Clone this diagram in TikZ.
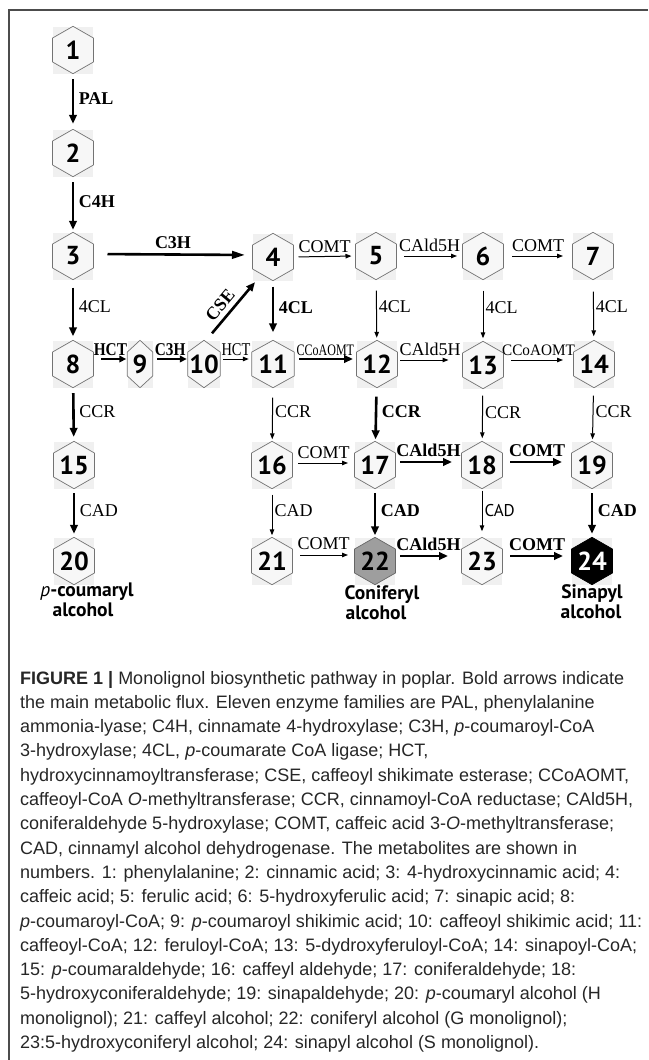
\documentclass[tikz,border=0pt]{standalone}
\usepackage{fontspec}
\usepackage{graphicx}
\setmainfont{Liberation Serif}
\newfontfamily\numf{PT Sans}
\newfontfamily\capf{Liberation Sans}
\usetikzlibrary{arrows.meta}
\newcommand\hexn[7]{%
  \node[bgbox, minimum width={2*#4pt}] (#1) at (#2,#3) {};
  \draw[hexline,#5] (#1.north) -- ([yshift=-11.75pt]#1.north east) -- ([yshift=11.75pt]#1.south east) -- (#1.south) -- ([yshift=11.75pt]#1.south west) -- ([yshift=-11.75pt]#1.north west) -- cycle;
  \node[numtxt,#6] (#1t) at (#1) {#7};
}
\newcommand\cnd[2]{\scalebox{#1}[1]{#2}}
\begin{document}
\begin{tikzpicture}[x=1pt,y=-1pt,
  bgbox/.style={fill=black!6, draw=none, inner sep=0pt, minimum height=47pt},
  hexline/.style={draw=black!55, line width=0.7pt, fill=black!3},
  boldarr/.style={line width=2.6pt, -{Triangle[length=9pt,width=7.5pt]}},
  thinarr/.style={line width=1pt, -{Triangle[length=6pt,width=4.5pt]}},
  enz/.style={font=\fontsize{18}{18}\selectfont, inner sep=1.5pt},
  enzb/.style={font=\fontsize{18}{18}\selectfont\bfseries, inner sep=1.5pt},
  enzs/.style={font=\numf\fontsize{17}{17}\selectfont, inner sep=1.5pt},
  numtxt/.style={font=\numf\bfseries\fontsize{26}{26}\selectfont, inner sep=0pt},
  fintxt/.style={font=\numf\bfseries\fontsize{19.5}{19.5}\selectfont, inner sep=0pt},
  captxt/.style={font=\capf\fontsize{18}{18}\selectfont, text=black!85, inner sep=0pt, anchor=base west},
  vlb/.style={right, xshift=3pt, pos=0.45},
  vlt/.style={right, xshift=0.5pt, pos=0.45},
  frameline/.style={line width=1.3pt, draw=black!70}
]
\useasboundingbox (0,0) rectangle (648,1060);
\draw[frameline] (648,10) -- (9,10) -- (9,1060);

% hexagons
\hexn{n1}{73}{50}{20.3}{}{}{1}
\hexn{n2}{73}{153}{20.3}{}{}{2}
\hexn{n3}{73}{256}{20.3}{}{}{3}
\hexn{n4}{273}{257}{20.3}{}{}{4}
\hexn{n5}{376}{256}{20.3}{}{}{5}
\hexn{n6}{483}{256}{20.3}{}{}{6}
\hexn{n7}{593}{256}{20.3}{}{}{7}
\hexn{n8}{73}{364}{20.3}{}{}{8}
\hexn{n9}{140}{364}{12.5}{}{}{9}
\hexn{n10}{204}{364}{16}{}{}{10}
\hexn{n11}{273}{364}{21}{}{}{11}
\hexn{n12}{377}{364}{20.3}{}{}{12}
\hexn{n13}{483}{365}{20.3}{}{}{13}
\hexn{n14}{594}{364}{20.3}{}{}{14}
\hexn{n15}{74}{465}{20.3}{}{}{15}
\hexn{n16}{272}{465}{20.3}{}{}{16}
\hexn{n17}{375}{465}{20.3}{}{}{17}
\hexn{n18}{482}{465}{20.3}{}{}{18}
\hexn{n19}{592}{465}{20.3}{}{}{19}
\hexn{n20}{74}{561}{20.3}{}{}{20}
\hexn{n21}{272}{561}{20.3}{}{}{21}
\hexn{n22}{375}{561}{20.3}{fill=black!38,draw=black!60}{}{22}
\hexn{n23}{482}{561}{20.3}{}{}{23}
\hexn{n24}{592}{561}{20.3}{fill=black,draw=black}{text=white}{24}

% final product names
\node[fintxt] (l20a) at (87,592) {\textmd{\itshape p}-coumaryl};
\node[fintxt] (l20b) at (83,610) {alcohol};
\node[fintxt] (l22a) at (382,595) {Coniferyl};
\node[fintxt] (l22b) at (376,613) {alcohol};
\node[fintxt] (l24a) at (592,594) {Sinapyl};
\node[fintxt] (l24b) at (591,612) {alcohol};

% vertical arrows
\draw[boldarr, shorten <=5.5pt, shorten >=5.5pt] (n1) -- (n2) node[enzb, vlb] (e1) {PAL};
\draw[boldarr, shorten <=5.5pt, shorten >=2.5pt] (n2) -- (n3) node[enzb, vlb] (e2) {C4H};
\draw[boldarr, shorten <=8pt, shorten >=4pt] (n3) -- (n8) node[enz, vlb] (e3) {4CL};
\draw[boldarr, shorten <=6pt, shorten >=8pt] (n4) -- (n11) node[enzb, vlb] (e4) {4CL};
\draw[thinarr, shorten <=11pt, shorten >=2.5pt] (n5) -- (n12) node[enz, vlt] (e5) {4CL};
\draw[thinarr, shorten <=11pt, shorten >=3pt] (n6) -- (n13) node[enz, vlt] (e6) {4CL};
\draw[thinarr, shorten <=12pt, shorten >=4pt] (n7) -- (n14) node[enz, vlt] (e7) {4CL};
\draw[boldarr, shorten <=5.5pt, shorten >=4.5pt] (n8) -- (n15) node[enz, vlb] (e8) {CCR};
\draw[thinarr, shorten <=10pt, shorten >=2pt] (n11) -- (n16) node[enz, vlt] (e9) {CCR};
\draw[boldarr, shorten <=9pt, shorten >=2pt] (n12) -- (n17) node[enzb, vlb] (e10) {CCR};
\draw[thinarr, shorten <=7pt, shorten >=3pt] (n13) -- (n18) node[enz, vlt] (e11) {CCR};
\draw[thinarr, shorten <=8pt, shorten >=2pt] (n14) -- (n19) node[enz, vlt] (e12) {CCR};
\draw[boldarr, shorten <=4.5pt, shorten >=3.5pt] (n15) -- (n20) node[enz, vlb] (e13) {CAD};
\draw[thinarr, shorten <=6pt, shorten >=2pt] (n16) -- (n21) node[enz, vlt] (e14) {CAD};
\draw[boldarr, shorten <=4.5pt, shorten >=2pt] (n17) -- (n22) node[enzb, vlb] (e15) {CAD};
\draw[thinarr, shorten <=2pt, shorten >=6pt] (n18) -- (n23) node[enzs, vlt] (e16) {CAD};
\draw[boldarr, shorten <=4.5pt, shorten >=3.5pt] (n19) -- (n24) node[enzb, vlb] (e17) {CAD};

% horizontal arrows, row C
\draw[boldarr, -{Triangle[length=13pt,width=7.5pt]}, shorten <=14pt, shorten >=7.5pt] ([yshift=2pt]n3.east) -- ([yshift=2pt]n4.west) node[enzb, above=3pt, midway] (h1) {C3H};
\draw[thinarr, shorten <=5pt, shorten >=4pt] (n4.east) -- (n5.west) node[enz, above=2pt, midway] (h2) {COMT};
\draw[thinarr, shorten <=7.5pt, shorten >=5.5pt] (n5.east) -- (n6.west) node[enz, above=2pt, midway] (h3) {CAld5H};
\draw[thinarr, shorten <=8.5pt, shorten >=9.5pt] (n6.east) -- (n7.west) node[enz, above=2pt, midway] (h4) {COMT};

% row D
\draw[boldarr, -{Triangle[length=7pt,width=6.5pt]}, shorten <=7.5pt, shorten >=1pt] ([yshift=5pt]n8.east) -- ([yshift=5pt]n9.west) node[enzb, above=1pt, midway] (h5) {\cnd{0.85}{HCT}};
\draw[boldarr, -{Triangle[length=7pt,width=6.5pt]}, shorten <=4.5pt, shorten >=1pt] ([yshift=5pt]n9.east) -- ([yshift=5pt]n10.west) node[enzb, above=1pt, midway] (h6) {\cnd{0.85}{C3H}};
\draw[thinarr, shorten <=3pt, shorten >=3pt] ([yshift=5pt]n10.east) -- ([yshift=5pt]n11.west) node[enz, above=1pt, midway] (h7) {\cnd{0.8}{HCT}};
\draw[boldarr, shorten <=5pt, shorten >=3.5pt] ([yshift=5pt]n11.east) -- ([yshift=5pt]n12.west) node[enz, above=1pt, midway] (h8) {\fontsize{16}{16}\selectfont\cnd{0.75}{CCoAOMT}};
\draw[thinarr, shorten <=2.5pt, shorten >=14pt] ([yshift=4pt]n12.east) -- ([yshift=5pt]n13.west) node[enz, above=2pt, midway] (h9) {CAld5H};
\draw[thinarr, shorten <=7.5pt, shorten >=10.5pt] ([yshift=5pt]n13.east) -- ([yshift=4pt]n14.west) node[enz, above=2pt, midway] (h10) {\fontsize{16}{16}\selectfont\cnd{0.95}{CCoAOMT}};

% row E
\draw[thinarr, shorten <=5.5pt, shorten >=6.5pt] ([yshift=2pt]n16.east) -- ([yshift=2pt]n17.west) node[enz, above=2pt, midway] (h11) {COMT};
\draw[boldarr, shorten <=4.5pt, shorten >=9.5pt] ([yshift=3pt]n17.east) -- ([yshift=3pt]n18.west) node[enzb, above=3pt, midway] (h12) {CAld5H};
\draw[boldarr, shorten <=7.5pt, shorten >=9.5pt] ([yshift=3pt]n18.east) -- ([yshift=3pt]n19.west) node[enzb, above=3pt, midway] (h13) {COMT};

% row F
\draw[thinarr, shorten <=7.5pt, shorten >=6.5pt] ([yshift=6pt]n21.east) -- ([yshift=6pt]n22.west) node[enz, above=3pt, midway] (h14) {COMT};
\draw[boldarr, shorten <=4.5pt, shorten >=13.5pt] ([yshift=5pt]n22.east) -- ([yshift=5pt]n23.west) node[enzb, above=3pt, midway] (h15) {CAld5H};
\draw[boldarr, shorten <=7.5pt, shorten >=8.5pt] ([yshift=5pt]n23.east) -- ([yshift=5pt]n24.west) node[enzb, above=3pt, midway] (h16) {COMT};

% CSE diagonal
\draw[boldarr] ([shift={(8pt,7pt)}]n10.north) -- ([shift={(-18pt,-1.5pt)}]n4.south) node[enzb, pos=0.4, sloped, above=3pt] (eCSE) {CSE};

% caption
\node[captxt] (c1) at (20,684) {\textbf{FIGURE 1 |} Monolignol biosynthetic pathway in poplar. Bold arrows indicate};
\node[captxt] (c2) at (20,708.3) {the main metabolic flux. Eleven enzyme families are PAL, phenylalanine};
\node[captxt] (c3) at (20,732.6) {ammonia-lyase; C4H, cinnamate 4-hydroxylase; C3H, \textit{p}-coumaroyl-CoA};
\node[captxt] (c4) at (20,756.9) {3-hydroxylase; 4CL, \textit{p}-coumarate CoA ligase; HCT,};
\node[captxt] (c5) at (20,781.2) {hydroxycinnamoyltransferase; CSE, caffeoyl shikimate esterase; CCoAOMT,};
\node[captxt] (c6) at (20,805.5) {caffeoyl-CoA \textit{O}-methyltransferase; CCR, cinnamoyl-CoA reductase; CAld5H,};
\node[captxt] (c7) at (20,829.8) {coniferaldehyde 5-hydroxylase; COMT, caffeic acid 3-\textit{O}-methyltransferase;};
\node[captxt] (c8) at (20,854.1) {CAD, cinnamyl alcohol dehydrogenase. The metabolites are shown in};
\node[captxt] (c9) at (20,878.4) {numbers. 1: phenylalanine; 2: cinnamic acid; 3: 4-hydroxycinnamic acid; 4:};
\node[captxt] (c10) at (20,902.7) {caffeic acid; 5: ferulic acid; 6: 5-hydroxyferulic acid; 7: sinapic acid; 8:};
\node[captxt] (c11) at (20,927) {\textit{p}-coumaroyl-CoA; 9: \textit{p}-coumaroyl shikimic acid; 10: caffeoyl shikimic acid; 11:};
\node[captxt] (c12) at (20,951.3) {caffeoyl-CoA; 12: feruloyl-CoA; 13: 5-dydroxyferuloyl-CoA; 14: sinapoyl-CoA;};
\node[captxt] (c13) at (20,975.6) {15: \textit{p}-coumaraldehyde; 16: caffeyl aldehyde; 17: coniferaldehyde; 18:};
\node[captxt] (c14) at (20,999.9) {5-hydroxyconiferaldehyde; 19: sinapaldehyde; 20: \textit{p}-coumaryl alcohol (H};
\node[captxt] (c15) at (20,1024.2) {monolignol); 21: caffeyl alcohol; 22: coniferyl alcohol (G monolignol);};
\node[captxt] (c16) at (20,1048.5) {23:5-hydroxyconiferyl alcohol; 24: sinapyl alcohol (S monolignol).};
\end{tikzpicture}
\end{document}
